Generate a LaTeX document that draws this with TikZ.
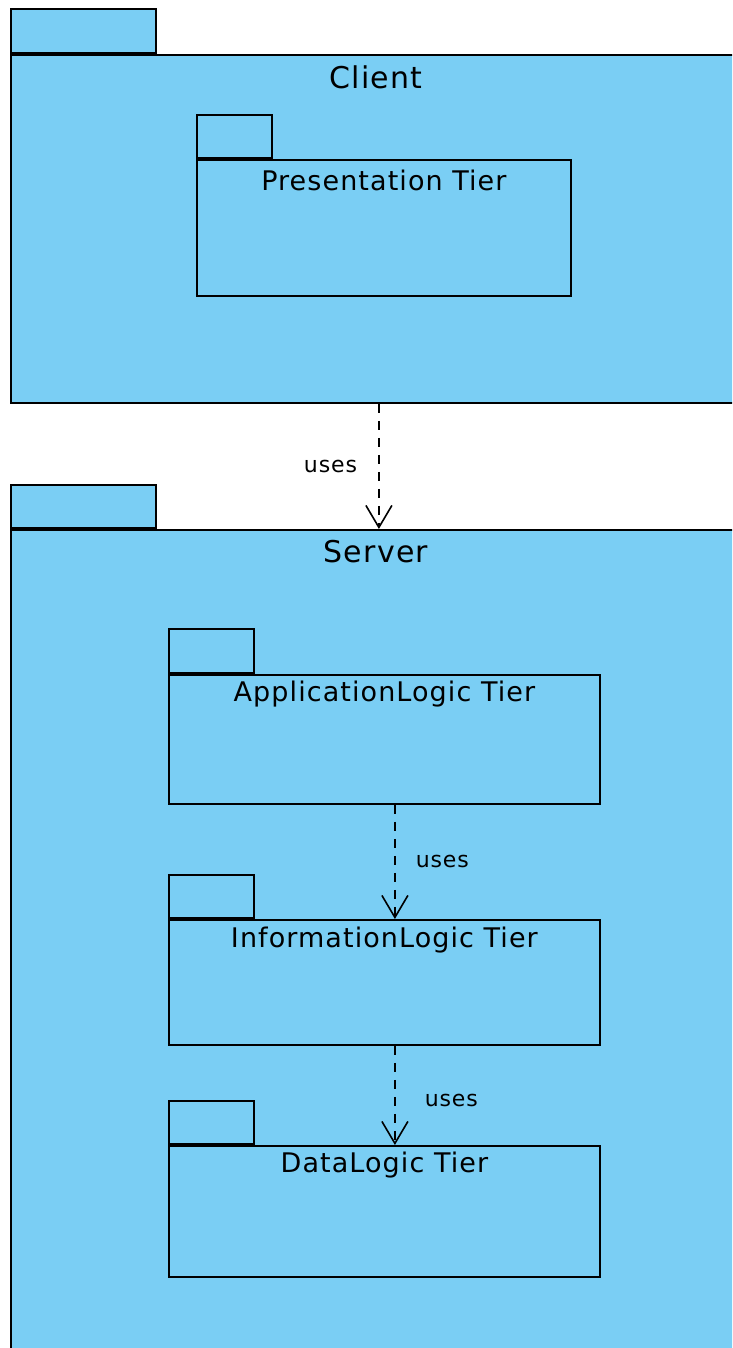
\documentclass[tikz,border=0pt]{standalone}
\usepackage{fontspec}
\setmainfont{DejaVu Sans}[LetterSpace=4]
\usetikzlibrary{positioning,arrows.meta}
\definecolor{pkgblue}{RGB}{122,206,244}
\begin{document}
\begin{tikzpicture}[x=1pt, y=-1pt, line width=1.8pt,
  pkg body/.style={rectangle,draw,fill=pkgblue,inner sep=0pt,anchor=north west},
  pkg tab/.style={rectangle,draw,fill=pkgblue,inner sep=0pt,anchor=south west},
  big title/.style={font=\fontsize{30}{36}\selectfont,inner sep=0pt},
  tier title/.style={font=\fontsize{27}{32}\selectfont,inner sep=0pt},
  uses/.style={dash pattern=on 9pt off 8pt,line width=1.8pt,-{Straight Barb[length=22pt,width=26pt,line width=1.6pt]}},
  uses label/.style={font=\fontsize{22}{26}\selectfont,inner sep=0pt}]%
\clip (0,0) rectangle (732,1348);
\begin{scope}
% outer packages
\node[pkg body, minimum width=730pt, minimum height=348pt] (client) at (10,54) {};
\node[pkg tab, minimum width=145pt, minimum height=44pt] (clienttab) at (client.north west) {};
\node[big title, below=23pt of client.north, anchor=center] (clientlbl) {Client};
\node[pkg body, minimum width=730pt, minimum height=840pt] (server) at (10,529) {};
\node[pkg tab, minimum width=145pt, minimum height=43pt] (servertab) at (server.north west) {};
\node[big title, below=23pt of server.north, anchor=center] (serverlbl) {Server};
\end{scope}
\begin{scope}
% inner packages
\node[pkg body, minimum width=374pt, minimum height=136pt] (pres) at (196,159) {};
\node[pkg tab, minimum width=75pt, minimum height=43pt] (prestab) at (pres.north west) {};
\node[tier title, below=21pt of pres.north, anchor=center] (preslbl) {Presentation Tier};
\node[pkg body, minimum width=431pt, minimum height=129pt] (app) at (168,674) {};
\node[pkg tab, minimum width=85pt, minimum height=44pt] (apptab) at (app.north west) {};
\node[tier title, below=20pt of app.north, anchor=center] (applbl) {ApplicationLogic Tier};
\node[pkg body, minimum width=431pt, minimum height=125pt] (info) at (168,919) {};
\node[pkg tab, minimum width=85pt, minimum height=43pt] (infotab) at (info.north west) {};
\node[tier title, below=21pt of info.north, anchor=center] (infolbl) {InformationLogic Tier};
\node[pkg body, minimum width=431pt, minimum height=131pt] (data) at (168,1145) {};
\node[pkg tab, minimum width=85pt, minimum height=43pt] (datatab) at (data.north west) {};
\node[tier title, below=20pt of data.north, anchor=center] (datalbl) {DataLogic Tier};
\end{scope}
\begin{scope}
% dependencies
\draw[uses] ([xshift=3pt]client.south) -- node[uses label, midway, left=21pt]{uses} ([xshift=3pt]server.north);
\draw[uses] ([xshift=10.5pt]app.south) -- node[uses label, midway, right=20pt]{uses} ([xshift=10.5pt]info.north);
\draw[uses] ([xshift=10.5pt]info.south) -- node[uses label, pos=0.55, right=29pt]{uses} ([xshift=10.5pt]data.north);
\end{scope}
\end{tikzpicture}
\end{document}
